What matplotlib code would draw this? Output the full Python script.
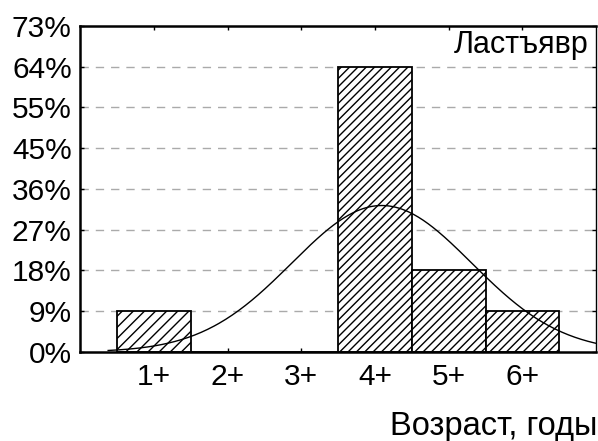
import numpy as np
import matplotlib.pyplot as plt

plt.rcParams['font.family'] = ['Liberation Sans', 'DejaVu Sans']

ages = [1, 2, 3, 4, 5, 6]
age_labels = ["1+", "2+", "3+", "4+", "5+", "6+"]
counts = [1, 0, 0, 7, 2, 1]
ytick_counts = [0, 1, 2, 3, 4, 5, 6, 7, 8]
ytick_labels = ["0%", "9%", "18%", "27%", "36%", "45%", "55%", "64%", "73%"]

# normal curve fitted to the age counts
n = sum(counts)
mean = np.average(ages, weights=counts)
sd = np.sqrt(np.sum(np.array(counts) * (np.array(ages) - mean) ** 2) / (n - 1))
xs = np.linspace(0.38, 7, 300)
ys = n / (sd * np.sqrt(2 * np.pi)) * np.exp(-0.5 * ((xs - mean) / sd) ** 2)

fig = plt.figure(figsize=(5.98, 4.41), dpi=100)
ax = fig.add_axes([0.134, 0.202, 0.863, 0.739])

for y in ytick_counts[1:-1]:
    ax.axhline(y, color='#aaaaaa', lw=1, dashes=(6, 5), zorder=0)

bars = ax.bar(ages, counts, width=1, color='white', edgecolor='black', hatch='////',
              linewidth=1.3, zorder=2)
bars[0].set_hatch('///')
ax.plot(xs, ys, color='black', lw=1, zorder=3)

ax.set_xlim(0, 7)
ax.set_ylim(0, 8)
ax.set_xticks(ages)
ax.set_xticklabels(age_labels, fontsize=21.5)
ax.set_yticks(ytick_counts)
ax.set_yticklabels(ytick_labels, fontsize=21.5)
ax.tick_params(direction='in', length=3, width=1, top=True, right=True)
ax.tick_params(axis='x', pad=8)
ax.tick_params(axis='y', pad=6)

for side in ['left', 'bottom', 'top']:
    ax.spines[side].set_linewidth(1.8)
ax.spines['right'].set_linewidth(1)

ax.text(0.986, 0.917, "Ластъявр", transform=ax.transAxes, ha='right', va='baseline',
        fontsize=22)
fig.text(0.999, 0.0136, "Возраст, годы", ha='right', va='baseline', fontsize=23.5)

fig.savefig("out.png", dpi=100)
